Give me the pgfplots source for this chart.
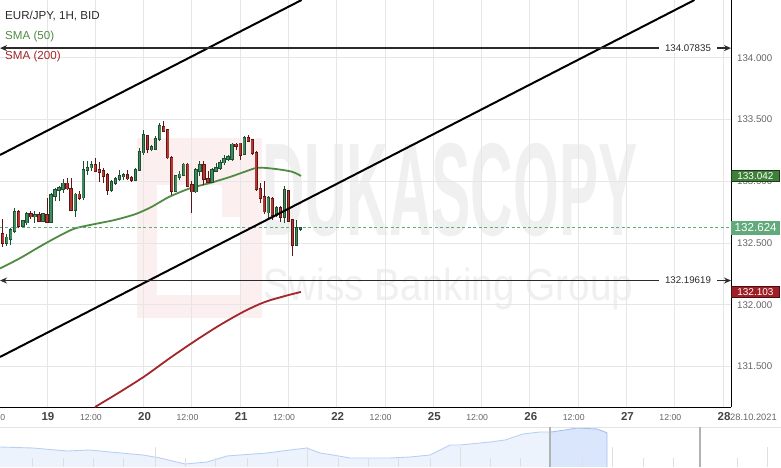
\documentclass[border=0pt]{standalone}
\usepackage{fontspec}
\setmainfont{Liberation Sans}
\usepackage{pgfplots}
\usepackage{pgfplotstable}
\pgfplotsset{compat=1.18}
\usetikzlibrary{arrows.meta}

\definecolor{gridc}{HTML}{E6E6E6}
\definecolor{upFill}{HTML}{3E8B5B}
\definecolor{upLine}{HTML}{1E4D31}
\definecolor{downFill}{HTML}{B8362F}
\definecolor{downLine}{HTML}{5C1614}
\definecolor{smaA}{HTML}{4F8C43}
\definecolor{smaB}{HTML}{A2262B}
\definecolor{priceG}{HTML}{55B07C}
\definecolor{boxP}{HTML}{62A97B}
\definecolor{boxA}{HTML}{3F7F3A}
\definecolor{boxAl}{HTML}{1E3B1C}
\definecolor{boxB}{HTML}{9E1F25}
\definecolor{boxBl}{HTML}{4B0E10}
\definecolor{arrowc}{HTML}{2B2B2B}
\definecolor{tickc}{HTML}{666666}
\definecolor{dayc}{HTML}{444444}
\definecolor{wmGray}{HTML}{F0F0F0}
\definecolor{wmPink}{HTML}{FCEFEF}
\definecolor{navFill}{HTML}{EDF3FD}
\definecolor{navLine}{HTML}{B9D0F5}
\definecolor{navFillB}{HTML}{DAE6FB}
\definecolor{navLineB}{HTML}{A3C0F2}

% hourly candles: h = trading hours since 18 Oct 00:00 (weekend removed)
\pgfplotstableread{
h o hi lo c
14 132.494 132.575 132.472 132.549
15 132.527 132.621 132.486 132.608
16 132.594 132.783 132.581 132.756
18 132.634 132.689 132.630 132.681
19 132.662 132.748 132.648 132.743
21 132.710 132.762 132.662 132.729
23 132.675 132.743 132.667 132.737
25 132.667 132.905 132.662 132.891
26 132.877 132.945 132.837 132.937
27 132.926 132.964 132.837 132.953
28 132.932 133.018 132.905 132.986
31 132.764 132.905 132.710 132.897
33 132.864 133.161 132.851 133.099
34 133.088 133.161 133.053 133.115
35 133.107 133.161 133.080 133.134
40 132.926 133.012 132.910 132.999
41 132.980 133.034 132.972 133.026
42 133.012 133.093 133.004 133.045
43 133.034 133.067 133.012 133.053
46 133.007 133.107 132.999 133.099
47 133.088 133.269 133.080 133.242
48 133.229 133.412 133.215 133.377
50 133.253 133.296 133.242 133.282
51 133.259 133.363 133.253 133.350
52 133.336 133.472 133.328 133.450
56 132.918 133.053 132.913 133.045
57 133.031 133.085 133.012 133.059
58 133.047 133.148 133.039 133.140
61 132.913 133.107 132.905 133.093
62 133.080 133.161 133.039 133.134
65 132.991 133.107 132.986 133.093
66 133.080 133.148 133.075 133.112
67 133.102 133.174 133.093 133.156
68 133.148 133.215 133.134 133.188
69 133.174 133.215 133.162 133.199
70 133.174 133.310 133.166 133.302
73 133.215 133.363 133.209 133.358
79 132.743 132.877 132.697 132.869
81 132.723 132.796 132.707 132.788
83 132.707 132.958 132.662 132.932
86 132.481 132.689 132.472 132.626
87 132.610 132.630 132.600 132.624
}\upData

\pgfplotstableread{
h o hi lo c
13 132.581 132.697 132.468 132.494
17 132.756 132.764 132.621 132.630
20 132.743 132.756 132.694 132.710
22 132.729 132.751 132.667 132.675
24 132.729 132.864 132.662 132.667
29 132.986 133.026 132.932 132.937
30 132.945 133.026 132.764 132.764
32 132.897 132.918 132.851 132.859
36 133.134 133.188 133.080 133.080
37 133.099 133.153 132.991 133.072
38 133.088 133.107 132.986 133.039
39 133.053 133.067 132.891 132.926
44 133.053 133.088 133.007 133.018
45 133.034 133.045 132.991 133.007
49 133.369 133.377 133.229 133.255
53 133.444 133.485 133.399 133.404
54 133.417 133.417 133.183 133.188
55 133.193 133.201 132.885 132.918
59 133.140 133.148 132.958 132.958
60 132.972 132.999 132.743 132.913
63 133.134 133.161 132.972 133.012
64 133.021 133.085 132.986 132.991
71 133.302 133.310 133.255 133.282
72 133.310 133.310 133.174 133.209
74 133.355 133.377 133.318 133.323
75 133.336 133.344 133.209 133.221
76 133.237 133.242 132.923 132.932
77 132.940 132.986 132.824 132.859
78 132.877 132.999 132.735 132.751
80 132.864 132.869 132.689 132.723
82 132.788 132.796 132.670 132.707
84 132.923 132.932 132.670 132.675
85 132.689 132.697 132.391 132.481
}\downData

\pgfplotsset{
  cbar/.style n args={2}{draw=none, mark=none, forget plot,
    error bars/.cd, y dir=plus, y explicit, error mark=none,
    error bar style={draw=#1, line width=#2, line cap=butt}},
}

\newcommand{\hm}{{\fontsize{8.7}{10}\selectfont\color{tickc}12:00\hspace*{8.8pt}}}
\newcommand{\dd}[1]{{\fontsize{11.5}{13}\selectfont\bfseries\color{dayc}\hspace*{2pt}#1}}

\begin{document}
\begin{tikzpicture}[x=1pt,y=1pt]
\useasboundingbox (0,0) rectangle (781,467);
\fill[white] (0,0) rectangle (781,467);
% watermark
\fill[wmPink] (137,149) rectangle (262,329);
\fill[white] (157,172) rectangle (222,282);
\fill[white] (222,172) rectangle (240,250);
\node[anchor=base west, inner sep=0pt, xscale=0.445, text=wmGray,
      font=\fontsize{132}{132}\selectfont\bfseries] at (262,232) {DUKASCOPY};
\node[anchor=base west, inner sep=0pt, xscale=0.86, text=wmGray,
      font=\fontsize{45}{45}\selectfont] at (263,167) {Swiss Banking Group};

\begin{axis}[
  at={(0pt,60pt)}, anchor=south west,
  scale only axis, width=731pt, height=407pt,
  xmin=12.32, xmax=193.98, ymin=131.172, ymax=134.468,
  axis x line*=bottom, axis y line*=right,
  axis line style={black, line width=1pt, -},
  xtick={24,36,...,192},
  xticklabels={\dd{19},\hm,\dd{20},\hm,\dd{21},\hm,\dd{22},\hm,\dd{25},\hm,\dd{26},\hm,\dd{27},\hm,\dd{28}},
  ytick={131.5,132,132.5,133,133.5,134},
  yticklabel={\pgfmathprintnumber[fixed,fixed zerofill,precision=3]{\tick}},
  /pgf/number format/assume math mode=true,
  major tick length=0pt,
  grid=major, major grid style={color=gridc, line width=0.9pt},
  xticklabel style={anchor=base, yshift=-13pt, inner sep=0pt},
  yticklabel style={anchor=west, xshift=6pt, inner sep=0pt, text=tickc, font=\fontsize{9.7}{11}\selectfont},
  clip=false,
]
% SMA 200
\addplot[smaB, line width=1.8pt, smooth] coordinates {
(35.93,131.172) (42.14,131.294) (48.35,131.423) (54.57,131.569) (60.78,131.707)
(66.99,131.836) (73.21,131.950) (78.18,132.023) (83.15,132.071) (87.12,132.104)};
% SMA 50
\addplot[smaA, line width=1.8pt, smooth] coordinates {
(12.32,132.294) (17.29,132.377) (22.26,132.472) (27.23,132.561) (30.96,132.618)
(35.93,132.654) (40.90,132.687) (45.87,132.733) (49.60,132.786) (52.08,132.832)
(54.57,132.877) (59.54,132.943) (64.51,132.986) (69.48,133.035) (73.21,133.078)
(76.44,133.110) (80.66,133.100) (84.81,133.078) (87.12,133.043)};
% current price line
\addplot[priceG, line width=0.9pt, dash pattern=on 3pt off 2.5pt] coordinates {(12.32,132.624) (193.98,132.624)};
% candles: wicks
\addplot[cbar={upLine}{0.9pt}] table[x=h, y=lo, y error plus expr=\thisrow{hi}-\thisrow{lo}] {\upData};
\addplot[cbar={downLine}{0.9pt}] table[x=h, y=lo, y error plus expr=\thisrow{hi}-\thisrow{lo}] {\downData};
% bodies outline
\addplot[cbar={upLine}{3.3pt}] table[x=h, y expr={min(\thisrow{o},\thisrow{c})-0.003}, y error plus expr={abs(\thisrow{c}-\thisrow{o})+0.006}] {\upData};
\addplot[cbar={downLine}{3.3pt}] table[x=h, y expr={min(\thisrow{o},\thisrow{c})-0.003}, y error plus expr={abs(\thisrow{c}-\thisrow{o})+0.006}] {\downData};
% bodies fill
\addplot[cbar={upFill}{1.7pt}] table[x=h, y expr={min(\thisrow{o},\thisrow{c})+0.004}, y error plus expr={max(abs(\thisrow{c}-\thisrow{o})-0.008,0)}] {\upData};
\addplot[cbar={downFill}{1.7pt}] table[x=h, y expr={min(\thisrow{o},\thisrow{c})+0.004}, y error plus expr={max(abs(\thisrow{c}-\thisrow{o})-0.008,0)}] {\downData};
% trend channel
\addplot[black, line width=2pt] coordinates {(12.32,133.213) (87.27,134.468)};
\addplot[black, line width=2pt] coordinates {(12.32,131.577) (184.9,134.468)};
% horizontal levels
\addplot[arrowc, line width=1.6pt, {Stealth[length=7pt,width=6pt]}-{Stealth[length=7pt,width=6pt]}] coordinates {(12.32,134.07835) (193.98,134.07835)};
\addplot[arrowc, line width=1.6pt, {Stealth[length=7pt,width=6pt]}-{Stealth[length=7pt,width=6pt]}] coordinates {(12.32,132.19619) (193.98,132.19619)};
\node[fill=white, inner xsep=6pt, inner ysep=1.5pt, text=arrowc, font=\fontsize{9.7}{11}\selectfont] at (axis cs:183.29,134.07835) {134.07835};
\node[fill=white, inner xsep=6pt, inner ysep=1.5pt, text=arrowc, font=\fontsize{9.7}{11}\selectfont] at (axis cs:183.29,132.19619) {132.19619};
% partial 12:00 label at left edge
\node[anchor=base, inner sep=0pt, yshift=-13pt] at (axis cs:12,131.172) {\hm};
% price boxes
\node[anchor=west, fill=boxA, draw=boxAl, line width=0.8pt, minimum width=48pt, minimum height=11pt, inner sep=0pt, text=white, font=\fontsize{10}{11}\selectfont] at (axis cs:193.98,133.042) {133.042};
\node[anchor=west, fill=boxB, draw=boxBl, line width=0.8pt, minimum width=48pt, minimum height=11.5pt, inner sep=0pt, text=white, font=\fontsize{10}{11}\selectfont] at (axis cs:193.98,132.103) {132.103};
\node[anchor=west, fill=boxP, minimum width=49pt, minimum height=14.3pt, inner sep=0pt, text=white, font=\fontsize{11.6}{13}\selectfont] at (axis cs:193.98,132.624) {132.624};
\end{axis}

% navigator
\begin{axis}[
  at={(0pt,0pt)}, anchor=south west,
  scale only axis, width=781pt, height=40pt,
  xmin=0, xmax=781, ymin=0, ymax=40,
  hide axis, clip=false,
]
\addplot[fill=navFill, draw=none] coordinates {
(0,20) (33,19) (67,16) (90,17) (110,15) (143,12) (160,9) (185,3) (207,5) (227,11)
(240,12) (267,14) (290,17) (307,19) (320,14) (333,12) (350,9) (367,9) (390,9) (410,10)
(430,12) (450,22) (460,22) (490,25) (505,27) (523,33) (540,35) (551,35)} \closedcycle;
\addplot[fill=navFillB, draw=none] coordinates {
(551,35) (565,37) (577,39) (597,38) (605,35) (607,34)} \closedcycle;
\addplot[navLine, line width=0.9pt] coordinates {
(0,20) (33,19) (67,16) (90,17) (110,15) (143,12) (160,9) (185,3) (207,5) (227,11)
(240,12) (267,14) (290,17) (307,19) (320,14) (333,12) (350,9) (367,9) (390,9) (410,10)
(430,12) (450,22) (460,22) (490,25) (505,27) (523,33) (540,35) (551,35)};
\addplot[navLineB, line width=0.9pt] coordinates {
(551,35) (565,37) (577,39) (597,38) (605,35) (607,34) (607,0)};
\end{axis}

\draw[gray!22, line width=0.8pt] (0,40) -- (781,40);
\foreach \x in {32,63,93,123,185,215,247,277,338,368,398,430,490,520,582,643,673,737}
  \draw[gray!25, line width=0.8pt] (\x,0) -- (\x,9);
\foreach \x in {155,307,460,612,767}
  \draw[gray!25, line width=0.8pt] (\x,0) -- (\x,20);
\draw[gray!60, line width=1.6pt] (550,0) -- (550,40);
\draw[gray!60, line width=1.6pt] (700,0) -- (700,40);

% date label at right end of time axis
\node[anchor=base west, inner sep=0pt, text=tickc, font=\fontsize{9.3}{11}\selectfont] at (730,47) {28.10.2021};

% chart legend
\node[anchor=base west, inner sep=0pt, text=arrowc, font=\fontsize{11.6}{13}\selectfont] at (5,447.1) {EUR/JPY, 1H, BID};
\node[anchor=base west, inner sep=0pt, text=smaA, font=\fontsize{11.6}{13}\selectfont] at (5,427.8) {SMA (50)};
\node[anchor=base west, inner sep=0pt, text=smaB, font=\fontsize{11.6}{13}\selectfont] at (5,407.8) {SMA (200)};
\end{tikzpicture}
\end{document}
